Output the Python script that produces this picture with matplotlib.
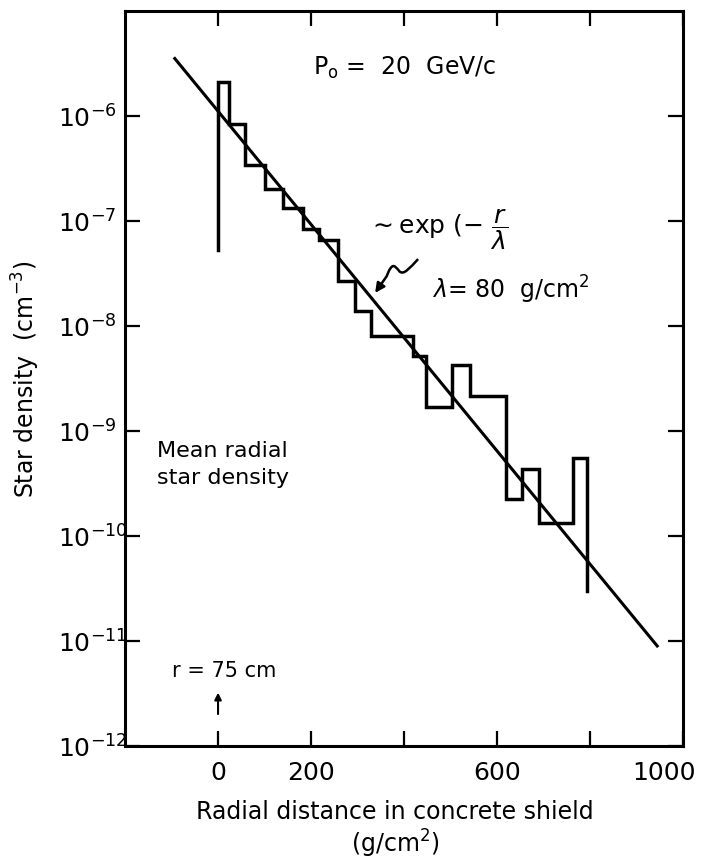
import matplotlib
matplotlib.use('Agg')
import matplotlib.pyplot as plt
import numpy as np
from matplotlib.path import Path
from matplotlib.patches import PathPatch

# Histograma de densidad de estrellas (bordes en g/cm^2, valores en cm^-3)
bordes = [0, 24, 58, 100, 140, 182, 216, 257, 295, 329, 420, 447, 502, 541, 620, 653, 690, 764, 792]
densidad = [2.1e-6, 8.4e-7, 3.4e-7, 2.0e-7, 1.31e-7, 8.3e-8, 6.6e-8, 2.66e-8, 1.39e-8,
            8.05e-9, 5.1e-9, 1.69e-9, 4.24e-9, 2.16e-9, 2.23e-10, 4.29e-10, 1.31e-10, 5.44e-10]
base_pico = 5.3e-8   # fondo de la primera barra
base_cola = 3.0e-11  # fondo de la ultima barra

# Recta de ajuste ~exp(-r/lambda), extremos
ajuste_x = [-93, 944]
ajuste_y = [3.5e-6, 8.9e-12]

ticks_x = [0, 200, 400, 600, 800, 1000]
etiquetas_x = ['0', '200', '', '600', '', '']
ticks_y = [1e-12, 1e-11, 1e-10, 1e-9, 1e-8, 1e-7, 1e-6]
etiquetas_y = [r'$10^{-12}$', r'$10^{-11}$', r'$10^{-10}$', r'$10^{-9}$',
               r'$10^{-8}$', r'$10^{-7}$', r'$10^{-6}$']

plt.rcParams['font.family'] = 'DejaVu Sans'
plt.rcParams['mathtext.fontset'] = 'dejavusans'

fig = plt.figure(figsize=(7.05, 8.62), dpi=100)
ax = fig.add_axes([0.1773, 0.1338, 0.7919, 0.8527])

xs = np.repeat(bordes, 2)  # contorno escalonado
ys = np.concatenate([[base_pico], np.repeat(densidad, 2), [base_cola]])
ax.plot(xs, ys, color='black', lw=2.5, solid_joinstyle='miter')
ax.plot(ajuste_x, ajuste_y, color='black', lw=2.2)

ax.set_yscale('log')
ax.set_xlim(-200, 1000)
ax.set_ylim(1e-12, 1e-5)
ax.set_xticks(ticks_x, etiquetas_x)
ax.set_yticks(ticks_y, etiquetas_y)
ax.minorticks_off()
ax.tick_params(direction='in', length=11, width=1.6, top=True, right=True)
ax.tick_params(axis='x', labelsize=18, pad=10)
ax.tick_params(axis='y', labelsize=18, pad=48)
for lab in ax.get_yticklabels():
    lab.set_horizontalalignment('left')
for s in ax.spines.values():
    s.set_linewidth(2.2)

ax.text(958, -0.019, '1000', transform=ax.get_xaxis_transform(), fontsize=18, ha='center', va='top')

ax.set_ylabel('Star density  (cm$^{-3}$)', fontsize=17)
ax.yaxis.set_label_coords(-0.149, 0.5)
ax.set_xlabel('Radial distance in concrete shield\n(g/cm$^2$)', fontsize=17, linespacing=1.15)
ax.xaxis.set_label_coords(0.484, -0.072)

# Textos dentro del grafico
ax.text(0.337, 0.923, r'P$_{\mathrm{o}}$ =  20  GeV/c', transform=ax.transAxes, fontsize=17, va='center')
ax.text(0.435, 0.703, r'$\sim\mathrm{exp}\ (-\ \dfrac{r}{\lambda}$', transform=ax.transAxes, fontsize=18, va='center')
ax.text(0.55, 0.621, r'$\lambda$= 80  g/cm$^2$', transform=ax.transAxes, fontsize=17, va='center')
ax.text(0.057, 0.384, 'Mean radial\nstar density', transform=ax.transAxes, fontsize=16, va='center', linespacing=1.45)
ax.text(0.177, 0.103, 'r = 75 cm', transform=ax.transAxes, fontsize=15, ha='center', va='center')

# Flechita en r = 0
ax.annotate('', xy=(0, 3.2e-12), xytext=(0, 2.0e-12),
            arrowprops=dict(arrowstyle='-|>', color='black', lw=1.5, mutation_scale=10, shrinkA=0, shrinkB=0))

# Flecha ondulada hacia la recta
verts = [(0.525, 0.662), (0.510, 0.650), (0.500, 0.640), (0.492, 0.645),
         (0.486, 0.650), (0.482, 0.656), (0.476, 0.650),
         (0.472, 0.646), (0.470, 0.641), (0.469, 0.639)]
codes = [Path.MOVETO] + [Path.CURVE4] * 9
ax.add_patch(PathPatch(Path(verts, codes), fill=False, lw=1.8, color='black', transform=ax.transAxes))
ax.annotate('', xy=(0.448, 0.616), xytext=(0.469, 0.639), xycoords='axes fraction', textcoords='axes fraction',
            arrowprops=dict(arrowstyle='-|>', color='black', lw=1.8, mutation_scale=14, shrinkA=0, shrinkB=0))

fig.savefig('out.png', dpi=100)
